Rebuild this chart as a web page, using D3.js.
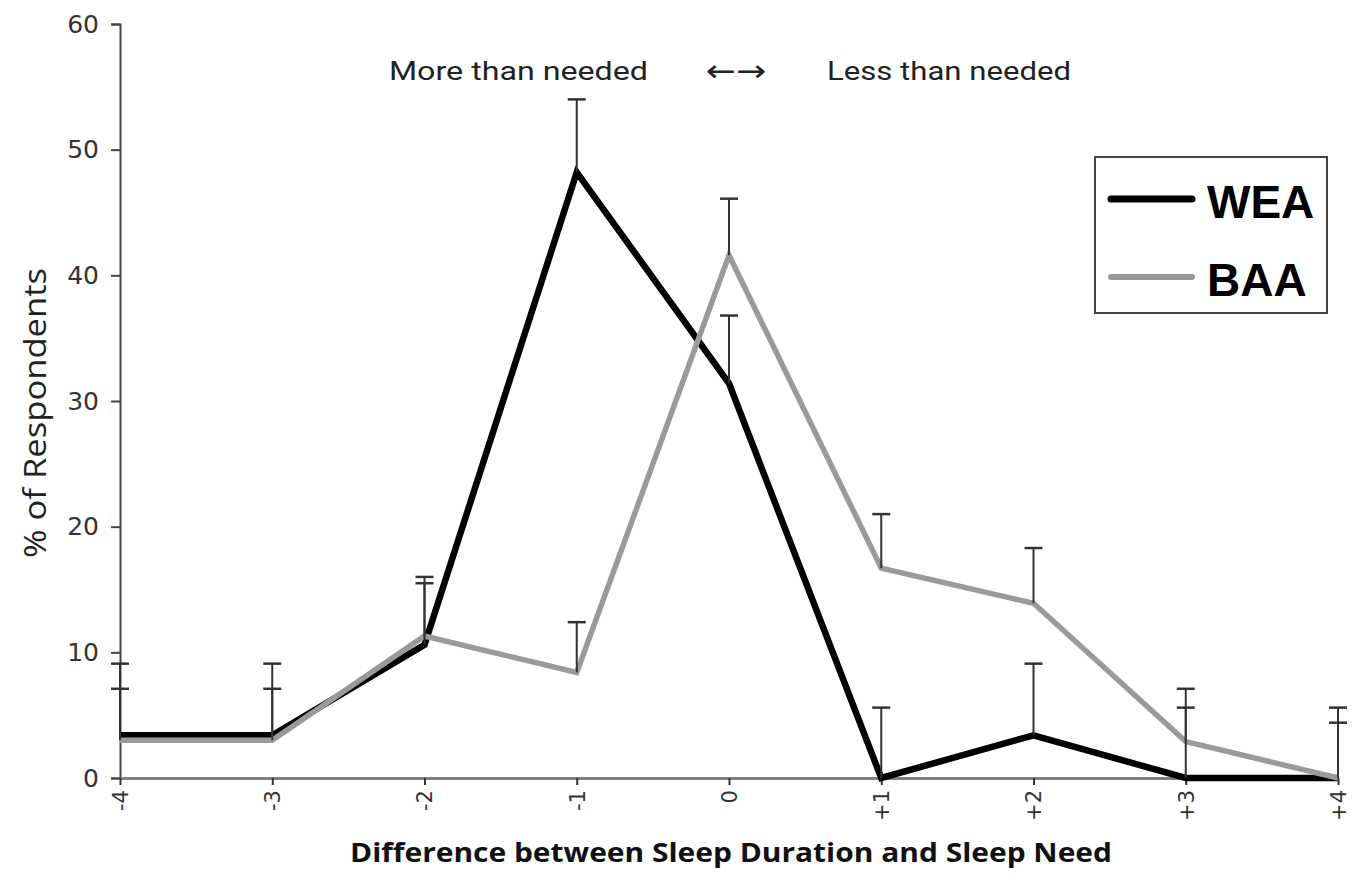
<!DOCTYPE html>
<html>
<head>
<meta charset="utf-8">
<script src="https://cdn.jsdelivr.net/npm/d3@7"></script>
<style>
  html, body { margin: 0; padding: 0; background: #fff; }
  svg { display: block; }
</style>
</head>
<body>
<svg id="chart" width="1358" height="880"></svg>
<script>
const categories = ["-4", "-3", "-2", "-1", "0", "+1", "+2", "+3", "+4"];
const weaValues = [3.4, 3.4, 10.6, 48.2, 31.4, 0, 3.4, 0, 0];
const weaErrors = [5.7, 5.7, 5.4, 5.8, 5.4, 5.6, 5.7, 5.6, 5.6];
const baaValues = [3.0, 3.0, 11.3, 8.4, 41.6, 16.7, 13.9, 2.9, 0];
const baaErrors = [4.1, 4.1, 4.2, 4.0, 4.5, 4.3, 4.4, 4.2, 4.4];
const yTicks = [0, 10, 20, 30, 40, 50, 60];
const seriesNames = ["WEA", "BAA"];

const svg = d3.select("#chart");
const x = d3.scalePoint().domain(categories).range([120, 1338]);
const y = d3.scaleLinear().domain([0, 60]).range([778, 24]);

const series = [
  { name: seriesNames[0], values: weaValues, errors: weaErrors, color: "#000000", width: 6.5 },
  { name: seriesNames[1], values: baaValues, errors: baaErrors, color: "#9a9a9a", width: 5.5 }
];

// Y axis
const yAxis = svg.append("g").attr("transform", "translate(120,0)")
  .call(d3.axisLeft(y).tickValues(yTicks).tickSize(9).tickPadding(12));
yAxis.select(".domain").attr("stroke", "#444").attr("stroke-width", 2);
yAxis.selectAll(".tick line").attr("stroke", "#444").attr("stroke-width", 2);
yAxis.selectAll(".tick text")
  .attr("font-family", "DejaVu Sans").attr("font-size", 25).attr("fill", "#333");

// X axis
const xAxis = svg.append("g").attr("transform", "translate(0,778)")
  .call(d3.axisBottom(x).tickSize(7).tickSizeOuter(0).tickPadding(0));
xAxis.select(".domain").attr("stroke", "#808080").attr("stroke-width", 3);
xAxis.selectAll(".tick line").attr("stroke", "#333").attr("stroke-width", 2);
xAxis.selectAll(".tick text")
  .attr("font-family", "DejaVu Sans").attr("font-size", 21).attr("fill", "#333")
  .attr("text-anchor", "end")
  .attr("transform", "translate(0,12) rotate(-90)")
  .attr("x", 0).attr("y", 0).attr("dy", "0.35em");

// Lines
const line = d3.line().x((d, i) => x(categories[i])).y(d => y(d));
series.forEach(s => {
  svg.append("path").datum(s.values)
    .attr("fill", "none").attr("stroke", s.color).attr("stroke-width", s.width)
    .attr("stroke-linejoin", "miter").attr("d", line);
});

// Error bars (upper only)
series.forEach(s => {
  const g = svg.append("g");
  s.values.forEach((v, i) => {
    const cx = x(categories[i]);
    g.append("line").attr("x1", cx).attr("x2", cx)
      .attr("y1", y(v)).attr("y2", y(v + s.errors[i]))
      .attr("stroke", "#333").attr("stroke-width", 2);
    g.append("line").attr("x1", cx - 9).attr("x2", cx + 9)
      .attr("y1", y(v + s.errors[i])).attr("y2", y(v + s.errors[i]))
      .attr("stroke", "#333").attr("stroke-width", 2.5);
  });
});

// Axis titles
svg.append("text")
  .attr("transform", "translate(46,413) rotate(-90)")
  .attr("text-anchor", "middle")
  .attr("font-family", "Open Sans").attr("font-size", 31).attr("fill", "#222")
  .attr("textLength", 290).attr("lengthAdjust", "spacingAndGlyphs")
  .text("% of Respondents");

svg.append("text")
  .attr("x", 731).attr("y", 862)
  .attr("text-anchor", "middle")
  .attr("font-family", "Open Sans").attr("font-weight", "bold")
  .attr("font-size", 27).attr("fill", "#111")
  .attr("textLength", 762).attr("lengthAdjust", "spacingAndGlyphs")
  .text("Difference between Sleep Duration and Sleep Need");

// Top annotations
const ann = svg.append("g").attr("font-family", "Roboto").attr("font-size", 25).attr("fill", "#222");
ann.append("text").attr("x", 389).attr("y", 80)
  .attr("textLength", 259).attr("lengthAdjust", "spacingAndGlyphs").text("More than needed");
ann.append("text").attr("x", 706).attr("y", 81)
  .attr("font-family", "DejaVu Sans").attr("font-size", 30)
  .attr("textLength", 60).attr("lengthAdjust", "spacingAndGlyphs").text("\u2190\u2192");
ann.append("text").attr("x", 827).attr("y", 80)
  .attr("textLength", 244).attr("lengthAdjust", "spacingAndGlyphs").text("Less than needed");

// Legend
const lg = svg.append("g");
lg.append("rect").attr("x", 1095).attr("y", 157).attr("width", 232).attr("height", 156)
  .attr("fill", "#fff").attr("stroke", "#444").attr("stroke-width", 2);
series.forEach((s, i) => {
  const ly = 199 + i * 78;
  lg.append("line").attr("x1", 1111).attr("x2", 1192).attr("y1", ly).attr("y2", ly)
    .attr("stroke", s.color).attr("stroke-width", s.width + 0.5).attr("stroke-linecap", "round");
  lg.append("text").attr("x", 1207).attr("y", ly + 19)
    .attr("font-family", "Liberation Sans").attr("font-weight", "bold")
    .attr("font-size", 46).attr("fill", "#000").text(s.name);
});
</script>
</body>
</html>
